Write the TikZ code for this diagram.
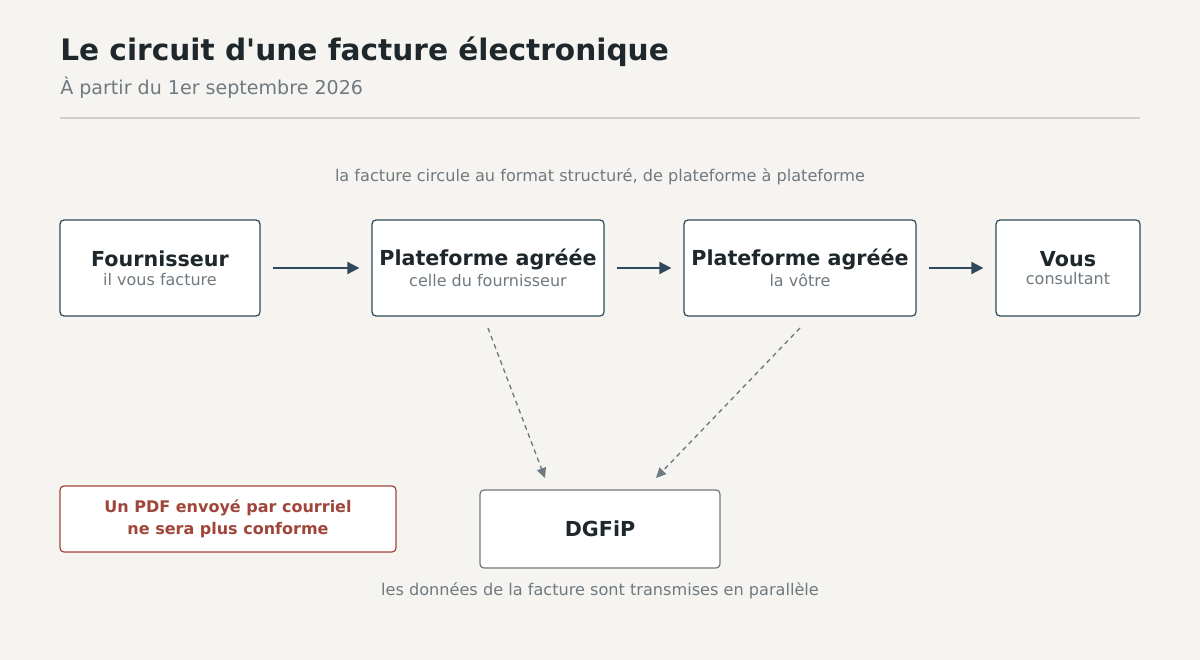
\documentclass[tikz,border=0pt]{standalone}
\usepackage{fontspec}
\setmainfont[Ligatures=NoCommon]{DejaVu Sans}
\usetikzlibrary{arrows.meta,positioning}
\definecolor{bg}{HTML}{F5F4F0}
\definecolor{ink}{HTML}{1E272C}
\definecolor{muted}{HTML}{6F7980}
\definecolor{navy}{HTML}{2E4A5A}
\definecolor{rust}{HTML}{A0453A}
\definecolor{rule}{HTML}{D0CFCA}
\tikzset{
  box/.style={draw=navy, fill=white, rounded corners=3pt, line width=0.9pt, align=center, minimum height=72pt, inner sep=0pt},
  flow/.style={-{Triangle[length=9pt,width=9pt]}, draw=navy, line width=1.3pt, shorten <=9pt, shorten >=9pt},
  feed/.style={-{Triangle[length=7.5pt,width=7pt]}, draw=muted, line width=1pt, dash pattern=on 3.5pt off 3pt},
  note/.style={text=muted, font=\fontsize{12.1}{14}\selectfont},
}
\newcommand{\boxtext}[2]{{\fontsize{15.5}{18}\selectfont\bfseries\color{ink}#1}\\[2pt]{\fontsize{12}{14}\selectfont\color{muted}#2}}
\begin{document}
\begin{tikzpicture}[x=0.75pt,y=-0.75pt]
\fill[bg] (0,0) rectangle (1200,660);
\useasboundingbox (0,0) rectangle (1200,660);
% header
\node[anchor=west, inner sep=0pt, text=ink, font=\fontsize{22.2}{26}\selectfont\bfseries] (title) at (60,52) {Le circuit d\textquotesingle une facture électronique};
\node[anchor=west, inner sep=0pt, text=muted, font=\fontsize{14.3}{17}\selectfont] (sub) at (60,88) {À partir du 1er septembre 2026};
\draw[rule, line width=1.3pt] (60,118) -- (1140,118);
\node[note] (top) at (600,177) {la facture circule au format structuré, de plateforme à plateforme};
% chain
\node[box, minimum width=150pt] (four) at (160,268) {\boxtext{Fournisseur}{il vous facture}};
\node[box, minimum width=174pt] (pf1) at (488,268) {\boxtext{Plateforme agréée}{celle du fournisseur}};
\node[box, minimum width=174pt] (pf2) at (800,268) {\boxtext{Plateforme agréée}{la vôtre}};
\node[box, minimum width=108pt] (vous) at (1068,268) {\boxtext{Vous}{consultant}};
\draw[flow] (four) -- (pf1);
\draw[flow] (pf1) -- (pf2);
\draw[flow] (pf2) -- (vous);
% administration
\node[box, draw=muted, minimum width=180pt, minimum height=58.5pt, text=ink, font=\fontsize{15.5}{18}\selectfont\bfseries] (dgfip) at (600,529) {DGFiP};
\coordinate (out1) at (488,328);
\coordinate (out2) at (800,328);
\coordinate (in1) at (545,478);
\coordinate (in2) at (656,478);
\draw[feed] (out1) -- (in1);
\draw[feed] (out2) -- (in2);
\node[note] (bottom) at (600,591) {les données de la facture sont transmises en parallèle};
% warning
\node[box, draw=rust, minimum width=252pt, minimum height=49.5pt, text=rust, font=\fontsize{12}{16.5}\selectfont\bfseries] (warn) at (228,519) {Un PDF envoyé par courriel\\ne sera plus conforme};
\end{tikzpicture}
\end{document}
